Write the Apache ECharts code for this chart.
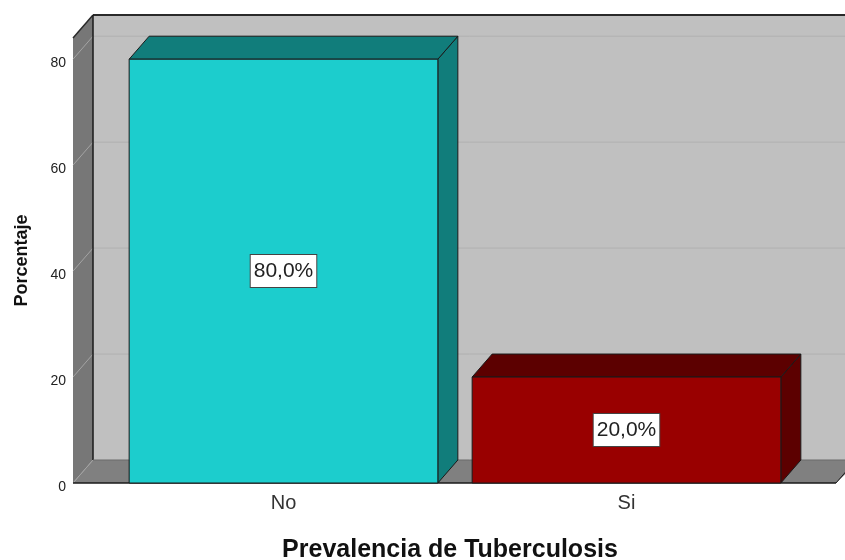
<!DOCTYPE html>
<html>
<head>
<meta charset="utf-8">
<script src="https://cdn.jsdelivr.net/npm/echarts@6/dist/echarts.min.js"></script>
<style>
html, body { margin: 0; padding: 0; background: #fff; }
#main { width: 845px; height: 560px; }
</style>
</head>
<body>
<div id="main"></div>
<script>
// data
var categories = ['No', 'Si'];
var percentages = [80.0, 20.0];
var percentLabels = ['80,0%', '20,0%'];
var yTicks = [0, 20, 40, 60, 80];
var yMax = 84;

var frontColors = ['#1ccdcd', '#990000'];
var shadeColors = ['#117d7b', '#5c0000'];

// 3d depth offset of the SPSS-like chart
var depthX = 20, depthY = -23;
var wallLeft = 73, wallRight = 836;
var fontFam = 'Arial, "Liberation Sans", sans-serif';

var chart = echarts.init(document.getElementById('main'));

function renderBar(params, api) {
    var idx = api.value(0);
    var base = api.coord([idx, 0]);
    var top = api.coord([idx, api.value(1)]);
    var bw = api.size([1, 0])[0] * 0.9;
    var l = base[0] - bw / 2, r = base[0] + bw / 2;
    var y0 = base[1], y1 = top[1];
    var edge = { stroke: '#1a1a1a', lineWidth: 1 };
    return {
        type: 'group',
        children: [{
            type: 'polygon',
            shape: { points: [[r, y0], [r, y1], [r + depthX, y1 + depthY], [r + depthX, y0 + depthY]] },
            style: Object.assign({ fill: shadeColors[idx] }, edge)
        }, {
            type: 'polygon',
            shape: { points: [[l, y1], [r, y1], [r + depthX, y1 + depthY], [l + depthX, y1 + depthY]] },
            style: Object.assign({ fill: shadeColors[idx] }, edge)
        }, {
            type: 'rect',
            shape: { x: l, y: y1, width: r - l, height: y0 - y1 },
            style: Object.assign({ fill: frontColors[idx] }, edge)
        }, {
            type: 'text',
            x: (l + r) / 2,
            y: (y0 + y1) / 2,
            style: {
                text: percentLabels[idx],
                align: 'center',
                verticalAlign: 'middle',
                fill: '#222',
                font: '21px ' + fontFam,
                backgroundColor: '#fff',
                borderColor: '#444',
                borderWidth: 1,
                padding: [6, 3, 5, 3]
            }
        }]
    };
}

var option = {
    animation: false,
    grid: { left: 112, right: 47, top: 38, bottom: 77, outerBoundsMode: 'none' },
    xAxis: {
        type: 'category',
        data: categories,
        name: 'Prevalencia de Tuberculosis',
        nameLocation: 'middle',
        nameGap: 55,
        nameMoveOverlap: false,
        nameTextStyle: { fontFamily: fontFam, fontSize: 25, fontWeight: 'bold', color: '#111', padding: [0, 10, 0, 0] },
        axisLine: { show: false },
        axisTick: { show: false },
        axisLabel: { margin: 10, fontSize: 20, color: '#333', fontFamily: fontFam }
    },
    yAxis: {
        type: 'value',
        min: 0,
        max: yMax,
        interval: 20,
        offset: 112 - wallLeft,
        name: 'Porcentaje',
        nameLocation: 'middle',
        nameGap: 42,
        nameMoveOverlap: false,
        nameTextStyle: { fontFamily: fontFam, fontSize: 18, fontWeight: 'bold', color: '#111' },
        axisLine: { show: false },
        axisTick: { show: false },
        splitLine: { show: false },
        axisLabel: {
            margin: 7, fontSize: 14, color: '#222',
            fontFamily: fontFam,
            verticalAlign: 'top',
            lineHeight: 8,
            formatter: function (v) { return yTicks.indexOf(v) >= 0 ? String(v) : ''; }
        }
    },
    series: [{
        type: 'custom',
        z: 2,
        renderItem: renderBar,
        data: percentages.map(function (v, i) { return [i, v]; })
    }]
};
chart.setOption(option);

// walls, floor and gridlines, placed from the value axis
var yTop = chart.convertToPixel({ yAxisIndex: 0 }, yMax);
var yZero = chart.convertToPixel({ yAxisIndex: 0 }, 0);
var bx = wallLeft + depthX, far = 860;
var walls = [
    { type: 'rect', shape: { x: bx, y: yTop + depthY, width: far - bx, height: yZero - yTop }, style: { fill: '#c0c0c0' } },
    { type: 'polygon', shape: { points: [[wallLeft, yZero], [wallLeft, yTop], [bx, yTop + depthY], [bx, yZero + depthY]] }, style: { fill: '#777777' } },
    { type: 'polygon', shape: { points: [[wallLeft, yZero], [bx, yZero + depthY], [far, yZero + depthY], [wallRight, yZero]] }, style: { fill: '#808080' } }
];
yTicks.forEach(function (t) {
    var py = chart.convertToPixel({ yAxisIndex: 0 }, t);
    walls.push({ type: 'line', shape: { x1: wallLeft, y1: py, x2: bx, y2: py + depthY }, style: { stroke: '#a4a4a4', lineWidth: 1 } });
    if (t > 0) {
        walls.push({ type: 'line', shape: { x1: bx, y1: py + depthY, x2: far, y2: py + depthY }, style: { stroke: '#b0b0b0', lineWidth: 1 } });
    }
});
walls.push(
    { type: 'line', shape: { x1: bx, y1: yTop + depthY, x2: far, y2: yTop + depthY }, style: { stroke: '#2a2a2a', lineWidth: 2 } },
    { type: 'line', shape: { x1: wallLeft, y1: yTop, x2: bx, y2: yTop + depthY }, style: { stroke: '#2a2a2a', lineWidth: 1.5 } },
    { type: 'line', shape: { x1: bx, y1: yTop + depthY, x2: bx, y2: yZero + depthY }, style: { stroke: '#1a1a1a', lineWidth: 1.5 } },
    { type: 'line', shape: { x1: bx, y1: yZero + depthY, x2: far, y2: yZero + depthY }, style: { stroke: '#6a6a6a', lineWidth: 1 } },
    { type: 'line', shape: { x1: wallLeft, y1: yZero, x2: wallRight, y2: yZero }, style: { stroke: '#1a1a1a', lineWidth: 1.5 } },
    { type: 'line', shape: { x1: wallRight, y1: yZero, x2: wallRight + depthX, y2: yZero + depthY }, style: { stroke: '#1a1a1a', lineWidth: 1 } }
);
chart.setOption({
    graphic: walls.map(function (g) { g.z = 0; g.silent = true; return g; })
});
</script>
</body>
</html>
